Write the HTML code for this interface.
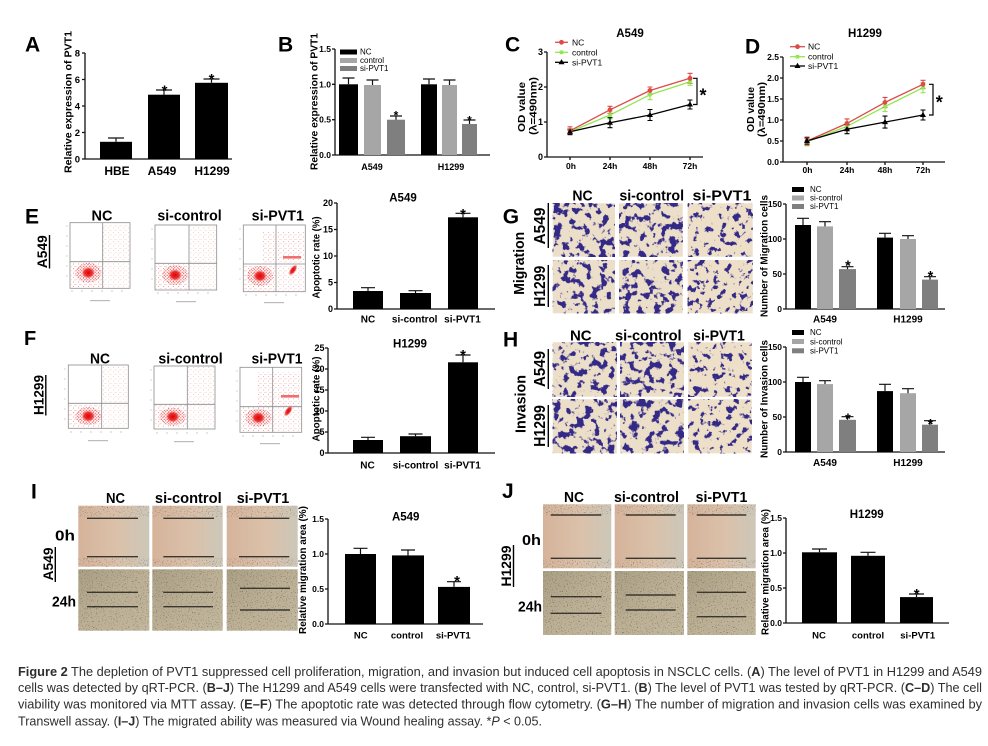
<!DOCTYPE html>
<html><head><meta charset="utf-8"><style>
html,body{margin:0;padding:0;background:#fff}
svg{display:block}
.b{font-family:"Liberation Sans",Arial,sans-serif;font-weight:bold;fill:#000}
.n{font-family:"Liberation Sans",Arial,sans-serif;fill:#000}
.ax{stroke:#111;stroke-width:1.3;fill:none}
.eb{stroke:#111;stroke-width:1.2;fill:none}
.cap{font-family:"Liberation Sans",Arial,sans-serif;fill:#2e2e2e;font-size:13px}
</style></head><body>
<svg width="988" height="746" viewBox="0 0 988 746" xmlns="http://www.w3.org/2000/svg">
<defs>
<filter id="twd" x="0" y="0" width="1" height="1" color-interpolation-filters="sRGB">
<feTurbulence type="fractalNoise" baseFrequency="0.13" numOctaves="3" seed="3" result="n"/>
<feColorMatrix in="n" type="matrix" values="0 0 0 0 0.2 0 0 0 0 0.16 0 0 0 0 0.53 -12 0 0 0 5.55" result="k"/>
<feMerge><feMergeNode in="SourceGraphic"/><feMergeNode in="k"/></feMerge>
</filter>
<filter id="tws" x="0" y="0" width="1" height="1" color-interpolation-filters="sRGB">
<feTurbulence type="fractalNoise" baseFrequency="0.15" numOctaves="3" seed="8" result="n"/>
<feColorMatrix in="n" type="matrix" values="0 0 0 0 0.2 0 0 0 0 0.16 0 0 0 0 0.53 -12 0 0 0 5.05" result="k"/>
<feMerge><feMergeNode in="SourceGraphic"/><feMergeNode in="k"/></feMerge>
</filter>
<filter id="spk" x="0" y="0" width="1" height="1" color-interpolation-filters="sRGB">
<feTurbulence type="fractalNoise" baseFrequency="0.8" numOctaves="2" seed="5" result="n"/>
<feColorMatrix in="n" type="matrix" values="0 0 0 0 0.32 0 0 0 0 0.29 0 0 0 0 0.24 -3 0 0 0 1.2" result="k"/>
<feMerge><feMergeNode in="SourceGraphic"/><feMergeNode in="k"/></feMerge>
</filter>
<pattern id="rd" width="3" height="3" patternUnits="userSpaceOnUse"><circle cx="0.8" cy="0.8" r="0.6" fill="#e52b2b"/><circle cx="2.3" cy="2.2" r="0.6" fill="#e52b2b"/></pattern>
<pattern id="rs" width="5" height="4.5" patternUnits="userSpaceOnUse"><circle cx="1" cy="0.8" r="0.45" fill="#e64040"/><circle cx="3.6" cy="3" r="0.45" fill="#e64040"/><circle cx="4.3" cy="1" r="0.35" fill="#e66060"/></pattern>
<radialGradient id="rg"><stop offset="0" stop-color="#e00000"/><stop offset="0.6" stop-color="#e81818" stop-opacity="0.85"/><stop offset="1" stop-color="#ff5050" stop-opacity="0"/></radialGradient>
<linearGradient id="w0" x1="0" x2="1" y1="0" y2="0"><stop offset="0" stop-color="#d5b39a"/><stop offset="0.55" stop-color="#dbc1aa"/><stop offset="1" stop-color="#ccc7b8"/></linearGradient>
<linearGradient id="w1" x1="0" x2="1" y1="0" y2="1"><stop offset="0" stop-color="#aaa085"/><stop offset="0.5" stop-color="#bcb095"/><stop offset="1" stop-color="#c2b89e"/></linearGradient>
</defs>
<rect width="988" height="746" fill="#fff"/>

<!-- ============ Panel A ============ -->
<text class="b" x="25" y="51.7" font-size="21">A</text>
<path class="ax" d="M85,53V159H232M82,53H85M82,79.5H85M82,106H85M82,132.5H85M82,159H85"/>
<g class="b" font-size="9.5" text-anchor="end">
<text x="80" y="56.5">8</text><text x="80" y="83">6</text><text x="80" y="109.5">4</text><text x="80" y="136">2</text><text x="80" y="162.5">0</text>
</g>
<rect x="100" y="141.8" width="32" height="17.2"/>
<rect x="148" y="94.7" width="32" height="64.3"/>
<rect x="195" y="82.8" width="33" height="76.2"/>
<path class="eb" d="M116,141.8V138M108,138H124M164,94.7V90M156,90H172M211.5,82.8V79M203.5,79H219.5"/>
<g class="b" font-size="15" text-anchor="middle"><text x="164.5" y="95.6">*</text><text x="211.5" y="84.1">*</text></g>
<g class="b" font-size="12" text-anchor="middle"><text x="117" y="175">HBE</text><text x="162" y="175">A549</text><text x="212" y="175">H1299</text></g>
<text class="b" font-size="10.5" text-anchor="middle" transform="translate(71.3,102) rotate(-90)" textLength="142" lengthAdjust="spacingAndGlyphs">Relative expression of PVT1</text>

<!-- ============ Panel B ============ -->
<text class="b" x="278" y="51.7" font-size="21">B</text>
<path class="ax" d="M335,49V155H490M332,49H335M332,84.3H335M332,119.7H335M332,155H335"/>
<g class="b" font-size="8.5" text-anchor="end">
<text x="331" y="52">1.5</text><text x="331" y="87.3">1.0</text><text x="331" y="122.7">0.5</text><text x="331" y="158">0.0</text>
</g>
<rect x="339" y="84.3" width="19" height="70.7" fill="#000"/>
<rect x="364" y="85" width="17" height="70" fill="#a6a6a6"/>
<rect x="387" y="119.7" width="18" height="35.3" fill="#7f7f7f"/>
<rect x="421" y="84.3" width="16" height="70.7" fill="#000"/>
<rect x="442" y="85" width="15" height="70" fill="#a6a6a6"/>
<rect x="462" y="124" width="15" height="31" fill="#7f7f7f"/>
<path class="eb" d="M348.5,84.3V78M342.5,78H354.5M372.5,85V80M366.5,80H378.5M396,119.7V116M390,116H402M429,84.3V79M423,79H435M449.5,85V80M443.5,80H455.5M469.5,124V120M463.5,120H475.5"/>
<g class="b" font-size="12" text-anchor="middle"><text x="396" y="119.4">*</text><text x="469.5" y="124.4">*</text></g>
<rect x="340" y="49.5" width="17" height="5" fill="#000"/>
<rect x="340" y="58" width="17" height="5" fill="#a6a6a6"/>
<rect x="340" y="66" width="17" height="5" fill="#7f7f7f"/>
<g class="n" font-size="8"><text x="360" y="54.5">NC</text><text x="360" y="63">control</text><text x="360" y="71">si-PVT1</text></g>
<g class="b" font-size="9" text-anchor="middle"><text x="372" y="170">A549</text><text x="451" y="170">H1299</text></g>
<text class="b" font-size="10.5" text-anchor="middle" transform="translate(317.7,101.5) rotate(-90)" textLength="137" lengthAdjust="spacingAndGlyphs">Relative expression of PVT1</text>

<!-- ============ Panel C ============ -->
<text class="b" x="505" y="51.7" font-size="21">C</text>
<text class="b" x="630" y="37" font-size="11.5" text-anchor="middle">A549</text>
<path class="ax" d="M547,52V157H703M544,52H547M544,87H547M544,122H547M544,157H547M570,157V160M610,157V160M650,157V160M690,157V160"/>
<g class="b" font-size="9" text-anchor="end"><text x="543" y="55">3</text><text x="543" y="90">2</text><text x="543" y="125">1</text><text x="543" y="160">0</text></g>
<g class="b" font-size="8.5" text-anchor="middle"><text x="571" y="169">0h</text><text x="610" y="169">24h</text><text x="650" y="169">48h</text><text x="690" y="169">72h</text></g>
<text class="b" font-size="10.5" text-anchor="middle" transform="translate(525,107) rotate(-90)" textLength="50" lengthAdjust="spacingAndGlyphs">OD value</text>
<text class="b" font-size="10.5" text-anchor="middle" transform="translate(536.3,106) rotate(-90)" textLength="58" lengthAdjust="spacingAndGlyphs">(λ=490nm)</text>
<g fill="none" stroke-width="1.3">
<path stroke="#8fe84e" d="M570,131.8L610,115L650,94.7L690,81.8"/>
<path stroke="#8fe84e" stroke-width="1.1" d="M570,128.8V134.8M567.5,128.8h5M567.5,134.8h5M610,111V119M607.5,111h5M607.5,119h5M650,89.7V99.7M647.5,89.7h5M647.5,99.7h5M690,78.3V85.3M687.5,78.3h5M687.5,85.3h5"/>
<path stroke="#dd4a48" d="M570,130.8L610,109.8L650,90.5L690,78.3"/>
<path stroke="#dd4a48" stroke-width="1.1" d="M570,126.8V134.8M567.5,126.8h5M567.5,134.8h5M610,106.3V113.3M607.5,106.3h5M607.5,113.3h5M650,87V94M647.5,87h5M647.5,94h5M690,73.3V83.3M687.5,73.3h5M687.5,83.3h5"/>
<path stroke="#000" d="M570,131.8L610,122.7L650,115L690,104.5"/>
<path stroke="#000" stroke-width="1.1" d="M570,129.3V134.3M567.5,129.3h5M567.5,134.3h5M610,117.7V127.7M607.5,117.7h5M607.5,127.7h5M650,109.5V120.5M647.5,109.5h5M647.5,120.5h5M690,100V109M687.5,100h5M687.5,109h5"/>
</g>
<g fill="#8fe84e"><rect x="568.2" y="130" width="3.6" height="3.6"/><rect x="608.2" y="113.2" width="3.6" height="3.6"/><rect x="648.2" y="92.9" width="3.6" height="3.6"/><rect x="688.2" y="80" width="3.6" height="3.6"/></g>
<g fill="#dd4a48"><circle cx="570" cy="130.8" r="2.4"/><circle cx="610" cy="109.8" r="2.4"/><circle cx="650" cy="90.5" r="2.4"/><circle cx="690" cy="78.3" r="2.4"/></g>
<g fill="#000"><polygon points="570,128.6 567,133.8 573,133.8"/><polygon points="610,119.5 607,124.7 613,124.7"/><polygon points="650,111.8 647,117 653,117"/><polygon points="690,101.3 687,106.5 693,106.5"/></g>
<path d="M555,42.3H568" stroke="#dd4a48" stroke-width="1.3"/><circle cx="561.5" cy="42.3" r="2.4" fill="#dd4a48"/>
<path d="M555,52.3H568" stroke="#8fe84e" stroke-width="1.3"/><rect x="559.7" y="50.5" width="3.6" height="3.6" fill="#8fe84e"/>
<path d="M555,62.3H568" stroke="#000" stroke-width="1.3"/><polygon points="561.5,59.1 558.5,64.3 564.5,64.3"/>
<g class="n" font-size="8.5"><text x="572" y="45.3">NC</text><text x="572" y="55.3">control</text><text x="572" y="65.3">si-PVT1</text></g>
<path d="M693,78.3H697V104.5H693" fill="none" stroke="#000" stroke-width="1.2"/>
<text class="b" x="703" y="101.6" font-size="18" text-anchor="middle">*</text>

<!-- ============ Panel D ============ -->
<text class="b" x="745" y="53.3" font-size="21">D</text>
<text class="b" x="865" y="37" font-size="11.5" text-anchor="middle">H1299</text>
<path class="ax" d="M783,57V162H945M780,57H783M780,78H783M780,99H783M780,120H783M780,141H783M780,162H783M807,162V165M847,162V165M885,162V165M923,162V165"/>
<g class="b" font-size="8.5" text-anchor="end"><text x="779" y="60">2.5</text><text x="779" y="81">2.0</text><text x="779" y="102">1.5</text><text x="779" y="123">1.0</text><text x="779" y="144">0.5</text><text x="779" y="165">0.0</text></g>
<g class="b" font-size="8.5" text-anchor="middle"><text x="807.5" y="173">0h</text><text x="847" y="173">24h</text><text x="885" y="173">48h</text><text x="923" y="173">72h</text></g>
<text class="b" font-size="10.5" text-anchor="middle" transform="translate(754.2,109.5) rotate(-90)" textLength="45" lengthAdjust="spacingAndGlyphs">OD value</text>
<text class="b" font-size="10.5" text-anchor="middle" transform="translate(765,109.5) rotate(-90)" textLength="55" lengthAdjust="spacingAndGlyphs">(λ=490nm)</text>
<g fill="none" stroke-width="1.3">
<path stroke="#8fe84e" d="M807,141.8L847,126.3L885,106.6L923,87.7"/>
<path stroke="#8fe84e" stroke-width="1.1" d="M807,137.8V145.8M804.5,137.8h5M804.5,145.8h5M847,122.3V130.3M844.5,122.3h5M844.5,130.3h5M885,101.6V111.6M882.5,101.6h5M882.5,111.6h5M923,82.7V92.7M920.5,82.7h5M920.5,92.7h5"/>
<path stroke="#dd4a48" d="M807,141L847,123.4L885,102.4L923,84.3"/>
<path stroke="#dd4a48" stroke-width="1.1" d="M807,137V145M804.5,137h5M804.5,145h5M847,118.9V127.9M844.5,118.9h5M844.5,127.9h5M885,97.4V107.4M882.5,97.4h5M882.5,107.4h5M923,80.3V88.3M920.5,80.3h5M920.5,88.3h5"/>
<path stroke="#000" d="M807,141L847,129.2L885,122.1L923,115"/>
<path stroke="#000" stroke-width="1.1" d="M807,138V144M804.5,138h5M804.5,144h5M847,124.7V133.7M844.5,124.7h5M844.5,133.7h5M885,116.1V128.1M882.5,116.1h5M882.5,128.1h5M923,110V120M920.5,110h5M920.5,120h5"/>
</g>
<g fill="#8fe84e"><rect x="805.2" y="140" width="3.6" height="3.6"/><rect x="845.2" y="124.5" width="3.6" height="3.6"/><rect x="883.2" y="104.8" width="3.6" height="3.6"/><rect x="921.2" y="85.9" width="3.6" height="3.6"/></g>
<g fill="#dd4a48"><circle cx="807" cy="141" r="2.4"/><circle cx="847" cy="123.4" r="2.4"/><circle cx="885" cy="102.4" r="2.4"/><circle cx="923" cy="84.3" r="2.4"/></g>
<g fill="#000"><polygon points="807,137.8 804,143 810,143"/><polygon points="847,126 844,131.2 850,131.2"/><polygon points="885,118.9 882,124.1 888,124.1"/><polygon points="923,111.8 920,117 926,117"/></g>
<path d="M790,46.7H805" stroke="#dd4a48" stroke-width="1.3"/><circle cx="797.5" cy="46.7" r="2.4" fill="#dd4a48"/>
<path d="M790,56.7H805" stroke="#8fe84e" stroke-width="1.3"/><rect x="795.7" y="54.9" width="3.6" height="3.6" fill="#8fe84e"/>
<path d="M790,66H805" stroke="#000" stroke-width="1.3"/><polygon points="797.5,62.8 794.5,68 800.5,68"/>
<g class="n" font-size="8.5"><text x="808" y="49.7">NC</text><text x="808" y="59.7">control</text><text x="808" y="69">si-PVT1</text></g>
<path d="M929,84.3H933V115H929" fill="none" stroke="#000" stroke-width="1.2"/>
<text class="b" x="939.3" y="108.7" font-size="18" text-anchor="middle">*</text>

<!-- ============ Panel E ============ -->
<text class="b" x="25" y="223.3" font-size="21">E</text>
<text class="b" font-size="14" text-anchor="middle" transform="translate(47,251.7) rotate(-90)" textLength="33" lengthAdjust="spacingAndGlyphs">A549</text>
<path d="M49.5,235V268.5" stroke="#000" stroke-width="1.4"/>
<g class="b" font-size="15" text-anchor="middle">
<text x="102" y="220.7" textLength="21" lengthAdjust="spacingAndGlyphs">NC</text>
<text x="189.5" y="220.7" textLength="64.3" lengthAdjust="spacingAndGlyphs">si-control</text>
<text x="277.8" y="220.7" textLength="52.3" lengthAdjust="spacingAndGlyphs">si-PVT1</text>
</g>
<!-- flow NC -->
<g stroke="#aaa" stroke-width="0.6"><path d="M66,226h2M66,236h2M66,246h2M66,256h2M66,266h2M66,276h2M72,290v2M82,290v2M92,290v2M102,290v2M112,290v2M122,290v2"/></g>
<rect x="70" y="222.7" width="60" height="65.6" fill="#fff" stroke="#8c8c8c" stroke-width="0.8"/>
<rect x="71" y="262" width="31" height="25" fill="url(#rs)" opacity="0.75"/>
<rect x="103" y="224" width="26" height="37" fill="url(#rs)" opacity="0.4"/>
<rect x="103" y="262" width="26" height="25" fill="url(#rs)" opacity="0.35"/>
<ellipse cx="88.3" cy="272.7" rx="13" ry="10" fill="url(#rd)" opacity="0.85"/>
<ellipse cx="88.3" cy="272.7" rx="7" ry="6" fill="url(#rg)"/>
<path d="M102.7,222.7V288.3M70,261.7H130" stroke="#8a8a8a" stroke-width="0.8"/>
<rect x="90" y="300" width="20" height="1.2" fill="#bbb"/>
<!-- flow si-control -->
<g stroke="#aaa" stroke-width="0.6"><path d="M151,229h2M151,239h2M151,249h2M151,259h2M151,269h2M151,279h2M158,292v2M168,292v2M178,292v2M188,292v2M198,292v2M208,292v2"/></g>
<rect x="155" y="225" width="61.7" height="65" fill="#fff" stroke="#8c8c8c" stroke-width="0.8"/>
<rect x="156" y="264" width="33" height="25" fill="url(#rs)" opacity="0.75"/>
<rect x="190" y="226" width="26" height="37" fill="url(#rs)" opacity="0.4"/>
<rect x="190" y="264" width="26" height="25" fill="url(#rs)" opacity="0.35"/>
<ellipse cx="175" cy="275" rx="13" ry="10" fill="url(#rd)" opacity="0.85"/>
<ellipse cx="175" cy="275" rx="7" ry="6" fill="url(#rg)"/>
<path d="M189,225V290M155,263.3H216.7" stroke="#8a8a8a" stroke-width="0.8"/>
<rect x="176" y="301" width="20" height="1.2" fill="#bbb"/>
<!-- flow si-PVT1 -->
<g stroke="#aaa" stroke-width="0.6"><path d="M239,229h2M239,239h2M239,249h2M239,259h2M239,269h2M239,279h2M246,294v2M256,294v2M266,294v2M276,294v2M286,294v2M296,294v2"/></g>
<rect x="243.3" y="225" width="62" height="66.7" fill="#fff" stroke="#8c8c8c" stroke-width="0.8"/>
<rect x="244" y="265" width="32" height="26" fill="url(#rs)" opacity="0.75"/>
<rect x="262" y="232" width="42" height="32" fill="url(#rs)" opacity="0.6"/>
<rect x="277" y="265" width="27" height="26" fill="url(#rs)" opacity="0.5"/>
<ellipse cx="260" cy="276" rx="13" ry="10" fill="url(#rd)" opacity="0.85"/>
<ellipse cx="260" cy="276" rx="7" ry="6" fill="url(#rg)"/>
<ellipse cx="293" cy="270" rx="3" ry="6.5" transform="rotate(35 293 270)" fill="url(#rg)"/>
<rect x="283" y="256" width="18" height="2.6" fill="#e33" opacity="0.7"/>
<path d="M276,225V291.7M243.3,264H305.3" stroke="#8a8a8a" stroke-width="0.8"/>
<rect x="264" y="302" width="20" height="1.2" fill="#bbb"/>
<!-- E bar -->
<text class="b" x="403" y="201.7" font-size="11.5" text-anchor="middle">A549</text>
<path class="ax" d="M337,203V309H495M334,203H337M334,229.5H337M334,256H337M334,282.5H337M334,309H337"/>
<g class="b" font-size="9" text-anchor="end"><text x="333" y="206">20</text><text x="333" y="232.5">15</text><text x="333" y="259">10</text><text x="333" y="285.5">5</text><text x="333" y="312">0</text></g>
<rect x="353" y="291" width="30" height="18"/>
<rect x="400" y="293" width="31" height="16"/>
<rect x="448" y="217.3" width="30" height="91.7"/>
<path class="eb" d="M368,291V287.7M361,287.7H375M415.5,293V290.7M408.5,290.7H422.5M463,217.3V213.3M455.5,213.3H470.5"/>
<text class="b" x="463" y="219.1" font-size="15" text-anchor="middle">*</text>
<g class="b" font-size="10" text-anchor="middle"><text x="368" y="322.7">NC</text><text x="414.7" y="322.7">si-control</text><text x="462.5" y="322.7">si-PVT1</text></g>
<text class="b" font-size="10.5" text-anchor="middle" transform="translate(319.4,257.5) rotate(-90)" textLength="82" lengthAdjust="spacingAndGlyphs">Apoptotic rate (%)</text>

<!-- ============ Panel F ============ -->
<text class="b" x="24" y="345" font-size="20">F</text>
<text class="b" font-size="14" text-anchor="middle" transform="translate(43.5,395) rotate(-90)" textLength="40" lengthAdjust="spacingAndGlyphs">H1299</text>
<path d="M45.8,375V415.5" stroke="#000" stroke-width="1.4"/>
<g class="b" font-size="15" text-anchor="middle">
<text x="100" y="363.3" textLength="20" lengthAdjust="spacingAndGlyphs">NC</text>
<text x="190.5" y="363.3" textLength="64.3" lengthAdjust="spacingAndGlyphs">si-control</text>
<text x="277" y="363.3" textLength="51" lengthAdjust="spacingAndGlyphs">si-PVT1</text>
</g>
<g stroke="#aaa" stroke-width="0.6"><path d="M64,369h2M64,379h2M64,389h2M64,399h2M64,409h2M64,419h2M71,431v2M81,431v2M91,431v2M101,431v2M111,431v2M121,431v2"/></g>
<rect x="68.3" y="365" width="60" height="63.3" fill="#fff" stroke="#8c8c8c" stroke-width="0.8"/>
<rect x="69" y="404" width="32" height="23" fill="url(#rs)" opacity="0.75"/>
<rect x="102" y="366" width="26" height="37" fill="url(#rs)" opacity="0.4"/>
<rect x="102" y="404" width="26" height="23" fill="url(#rs)" opacity="0.35"/>
<ellipse cx="88.3" cy="416" rx="13" ry="9" fill="url(#rd)" opacity="0.85"/>
<ellipse cx="88.3" cy="416" rx="7" ry="6" fill="url(#rg)"/>
<path d="M101.7,365V428.3M68.3,403.3H128.3" stroke="#8a8a8a" stroke-width="0.8"/>
<rect x="88" y="440" width="20" height="1.2" fill="#bbb"/>
<g stroke="#aaa" stroke-width="0.6"><path d="M150,370h2M150,380h2M150,390h2M150,400h2M150,410h2M150,420h2M157,432v2M167,432v2M177,432v2M187,432v2M197,432v2M207,432v2"/></g>
<rect x="154" y="366" width="61" height="63" fill="#fff" stroke="#8c8c8c" stroke-width="0.8"/>
<rect x="155" y="405" width="32" height="23" fill="url(#rs)" opacity="0.75"/>
<rect x="188" y="367" width="26" height="37" fill="url(#rs)" opacity="0.4"/>
<rect x="188" y="405" width="26" height="23" fill="url(#rs)" opacity="0.35"/>
<ellipse cx="172.7" cy="416.7" rx="13" ry="9" fill="url(#rd)" opacity="0.85"/>
<ellipse cx="172.7" cy="416.7" rx="7" ry="6" fill="url(#rg)"/>
<path d="M187.3,366V429M154,404.3H215" stroke="#8a8a8a" stroke-width="0.8"/>
<rect x="174" y="441" width="20" height="1.2" fill="#bbb"/>
<g stroke="#aaa" stroke-width="0.6"><path d="M236,371h2M236,381h2M236,391h2M236,401h2M236,411h2M236,421h2M243,435v2M253,435v2M263,435v2M273,435v2M283,435v2M293,435v2"/></g>
<rect x="240" y="367.3" width="61.7" height="65" fill="#fff" stroke="#8c8c8c" stroke-width="0.8"/>
<rect x="241" y="407" width="31" height="24" fill="url(#rs)" opacity="0.75"/>
<rect x="258" y="372" width="42" height="34" fill="url(#rs)" opacity="0.6"/>
<rect x="273" y="407" width="28" height="24" fill="url(#rs)" opacity="0.5"/>
<ellipse cx="258.3" cy="417.7" rx="13" ry="9" fill="url(#rd)" opacity="0.85"/>
<ellipse cx="258.3" cy="417.7" rx="7" ry="6" fill="url(#rg)"/>
<ellipse cx="288.3" cy="411" rx="3" ry="6.5" transform="rotate(35 288.3 411)" fill="url(#rg)"/>
<rect x="281" y="395" width="18" height="2.6" fill="#e33" opacity="0.7"/>
<path d="M272.7,367.3V432.3M240,406.7H301.7" stroke="#8a8a8a" stroke-width="0.8"/>
<rect x="260" y="443" width="20" height="1.2" fill="#bbb"/>
<!-- F bar -->
<text class="b" x="410" y="347.3" font-size="11.5" text-anchor="middle">H1299</text>
<path class="ax" d="M328,348V453H495M325,348H328M325,369H328M325,390H328M325,411H328M325,432H328M325,453H328"/>
<g class="b" font-size="9" text-anchor="end"><text x="324.5" y="351">25</text><text x="324.5" y="372">20</text><text x="324.5" y="393">15</text><text x="324.5" y="414">10</text><text x="324.5" y="435">5</text><text x="324.5" y="456">0</text></g>
<rect x="353" y="440" width="30" height="13"/>
<rect x="400" y="436.2" width="31" height="16.8"/>
<rect x="448" y="362.3" width="30" height="90.7"/>
<path class="eb" d="M368,440V437.3M361,437.3H375M415.5,436.2V434M408.5,434H422.5M463,362.3V355M455.5,355H470.5"/>
<text class="b" x="463" y="359.8" font-size="15" text-anchor="middle">*</text>
<g class="b" font-size="10" text-anchor="middle"><text x="367.5" y="468.3">NC</text><text x="415.5" y="468.3">si-control</text><text x="462.5" y="468.3">si-PVT1</text></g>
<text class="b" font-size="10.5" text-anchor="middle" transform="translate(319.4,399) rotate(-90)" textLength="85" lengthAdjust="spacingAndGlyphs">Apoptotic rate (%)</text>

<!-- ============ Panel G ============ -->
<text class="b" x="502.7" y="223.3" font-size="21">G</text>
<text class="b" font-size="15" text-anchor="middle" transform="translate(524,263.3) rotate(-90)" textLength="63" lengthAdjust="spacingAndGlyphs">Migration</text>
<text class="b" font-size="15.5" text-anchor="middle" transform="translate(545,226) rotate(-90)" textLength="37" lengthAdjust="spacingAndGlyphs">A549</text>
<path d="M548.3,203V248" stroke="#000" stroke-width="1.4"/>
<text class="b" font-size="15.5" text-anchor="middle" transform="translate(545,286.3) rotate(-90)" textLength="41" lengthAdjust="spacingAndGlyphs">H1299</text>
<path d="M548.3,265V307" stroke="#000" stroke-width="1.4"/>
<g class="b" font-size="15" text-anchor="middle">
<text x="582.5" y="200.7" textLength="20.3" lengthAdjust="spacingAndGlyphs">NC</text>
<text x="651.7" y="200.7" textLength="64.7" lengthAdjust="spacingAndGlyphs">si-control</text>
<text x="722" y="200.7" textLength="59" lengthAdjust="spacingAndGlyphs">si-PVT1</text>
</g>
<rect x="552.7" y="203.3" width="62.3" height="53.4" fill="#ecdfc9" filter="url(#twd)"/>
<rect x="619" y="203.3" width="63.7" height="53.4" fill="#ecdfc9" filter="url(#twd)"/>
<rect x="687.7" y="203.3" width="65" height="53.4" fill="#eddfc8" filter="url(#tws)"/>
<rect x="552.7" y="260" width="62.3" height="53.3" fill="#ecdfc9" filter="url(#twd)"/>
<rect x="619" y="260" width="63.7" height="53.3" fill="#ecdfc9" filter="url(#twd)"/>
<rect x="687.7" y="260" width="65" height="53.3" fill="#eddfc8" filter="url(#tws)"/>
<!-- G bar -->
<path class="ax" d="M786,204V309H945M783,204H786M783,239H786M783,274H786M783,309H786"/>
<g class="b" font-size="8.5" text-anchor="end"><text x="782" y="207">150</text><text x="782" y="242">100</text><text x="782" y="277">50</text><text x="782" y="312">0</text></g>
<rect x="795" y="225" width="16" height="84" fill="#000"/>
<rect x="817" y="226.4" width="16" height="82.6" fill="#a6a6a6"/>
<rect x="839" y="269.1" width="17" height="39.9" fill="#7f7f7f"/>
<rect x="877" y="237.6" width="16" height="71.4" fill="#000"/>
<rect x="900" y="239" width="16" height="70" fill="#a6a6a6"/>
<rect x="922" y="279.6" width="16" height="29.4" fill="#7f7f7f"/>
<path class="eb" d="M803,225V218.3M797,218.3H809M825,226.4V221.7M819,221.7H831M847.5,269.1V266.7M841.5,266.7H853.5M885,237.6V233.3M879,233.3H891M908,239V235.7M902,235.7H914M930,279.6V276.7M924,276.7H936"/>
<g class="b" font-size="14.5" text-anchor="middle"><text x="848" y="270.5">*</text><text x="930.5" y="281">*</text></g>
<rect x="792" y="187" width="12" height="5" fill="#000"/>
<rect x="792" y="195.5" width="12" height="5" fill="#a6a6a6"/>
<rect x="792" y="204" width="12" height="5" fill="#7f7f7f"/>
<g class="n" font-size="8"><text x="810" y="192">NC</text><text x="810" y="200.5">si-control</text><text x="810" y="209">si-PVT1</text></g>
<g class="b" font-size="10" text-anchor="middle"><text x="825" y="322.7">A549</text><text x="908" y="322.7">H1299</text></g>
<text class="b" font-size="10" text-anchor="middle" transform="translate(767.3,256) rotate(-90)" textLength="122" lengthAdjust="spacingAndGlyphs">Number of Migration cells</text>

<!-- ============ Panel H ============ -->
<text class="b" x="503" y="346.7" font-size="21">H</text>
<text class="b" font-size="15" text-anchor="middle" transform="translate(525.5,404) rotate(-90)" textLength="58" lengthAdjust="spacingAndGlyphs">Invasion</text>
<text class="b" font-size="15.5" text-anchor="middle" transform="translate(545,369) rotate(-90)" textLength="36" lengthAdjust="spacingAndGlyphs">A549</text>
<path d="M548.3,349V389" stroke="#000" stroke-width="1.4"/>
<text class="b" font-size="15.5" text-anchor="middle" transform="translate(545,426) rotate(-90)" textLength="41.7" lengthAdjust="spacingAndGlyphs">H1299</text>
<path d="M548.3,405V447" stroke="#000" stroke-width="1.4"/>
<g class="b" font-size="15" text-anchor="middle">
<text x="580.8" y="340.7" textLength="21.7" lengthAdjust="spacingAndGlyphs">NC</text>
<text x="648.3" y="340.7" textLength="66.7" lengthAdjust="spacingAndGlyphs">si-control</text>
<text x="719" y="340.7" textLength="51.7" lengthAdjust="spacingAndGlyphs">si-PVT1</text>
</g>
<rect x="552.7" y="342.3" width="64" height="54.4" fill="#ecdfc9" filter="url(#twd)"/>
<rect x="620" y="342.3" width="64" height="54.4" fill="#ecdfc9" filter="url(#twd)"/>
<rect x="688.3" y="342.3" width="63.4" height="54.4" fill="#eddfc8" filter="url(#tws)"/>
<rect x="552.7" y="399.3" width="64" height="54" fill="#ecdfc9" filter="url(#twd)"/>
<rect x="620" y="399.3" width="64" height="54" fill="#ecdfc9" filter="url(#twd)"/>
<rect x="688.3" y="399.3" width="63.4" height="54" fill="#eddfc8" filter="url(#tws)"/>
<!-- H bar -->
<path class="ax" d="M786,347V452H945M783,347H786M783,382H786M783,417H786M783,452H786"/>
<g class="b" font-size="8.5" text-anchor="end"><text x="782" y="350">150</text><text x="782" y="385">100</text><text x="782" y="420">50</text><text x="782" y="455">0</text></g>
<rect x="795" y="382" width="16" height="70" fill="#000"/>
<rect x="817" y="384.1" width="16" height="67.9" fill="#a6a6a6"/>
<rect x="839" y="419.8" width="17" height="32.2" fill="#7f7f7f"/>
<rect x="877" y="391.1" width="16" height="60.9" fill="#000"/>
<rect x="900" y="393.2" width="16" height="58.8" fill="#a6a6a6"/>
<rect x="922" y="424.7" width="16" height="27.3" fill="#7f7f7f"/>
<path class="eb" d="M803,382V377.3M797,377.3H809M825,384.1V380.7M819,380.7H831M847.5,419.8V416.7M841.5,416.7H853.5M885,391.1V384.3M879,384.3H891M908,393.2V388.7M902,388.7H914M930,424.7V420.7M924,420.7H936"/>
<g class="b" font-size="14.5" text-anchor="middle"><text x="848" y="423.5">*</text><text x="930.5" y="429">*</text></g>
<rect x="792" y="330" width="12" height="5" fill="#000"/>
<rect x="792" y="339" width="12" height="5" fill="#a6a6a6"/>
<rect x="792" y="348.3" width="12" height="5" fill="#7f7f7f"/>
<g class="n" font-size="8"><text x="810" y="335">NC</text><text x="810" y="344.3">si-control</text><text x="810" y="353.6">si-PVT1</text></g>
<g class="b" font-size="10" text-anchor="middle"><text x="825" y="466">A549</text><text x="908" y="466">H1299</text></g>
<text class="b" font-size="10" text-anchor="middle" transform="translate(767.3,399) rotate(-90)" textLength="118" lengthAdjust="spacingAndGlyphs">Number of Invasion cells</text>

<!-- ============ Panel I ============ -->
<text class="b" x="31" y="498.3" font-size="21">I</text>
<g class="b" font-size="14.5" text-anchor="middle">
<text x="115.5" y="503" textLength="19" lengthAdjust="spacingAndGlyphs">NC</text>
<text x="188.3" y="503" textLength="66.7" lengthAdjust="spacingAndGlyphs">si-control</text>
<text x="263" y="503" textLength="52.6" lengthAdjust="spacingAndGlyphs">si-PVT1</text>
</g>
<g class="b" font-size="15" text-anchor="end"><text x="75" y="540.7" textLength="20" lengthAdjust="spacingAndGlyphs">0h</text><text x="76" y="606.7" textLength="24" lengthAdjust="spacingAndGlyphs">24h</text></g>
<text class="b" font-size="14" text-anchor="middle" transform="translate(53,564) rotate(-90)" textLength="33" lengthAdjust="spacingAndGlyphs">A549</text>
<path d="M55.3,547V582" stroke="#000" stroke-width="1.4"/>
<rect x="78.3" y="505.7" width="71" height="61" fill="url(#w0)"/>
<rect x="152.3" y="505.7" width="70.4" height="61" fill="url(#w0)"/>
<rect x="226.7" y="505.7" width="71" height="61" fill="url(#w0)"/>
<rect x="78.3" y="505.7" width="71" height="11" fill="#000" fill-opacity="0" filter="url(#spk)"/>
<rect x="152.3" y="505.7" width="70.4" height="11" fill="#000" fill-opacity="0" filter="url(#spk)"/>
<rect x="226.7" y="505.7" width="71" height="11" fill="#000" fill-opacity="0" filter="url(#spk)"/>
<rect x="78.3" y="558" width="71" height="8.7" fill="#000" fill-opacity="0" filter="url(#spk)"/>
<rect x="152.3" y="558" width="70.4" height="8.7" fill="#000" fill-opacity="0" filter="url(#spk)"/>
<rect x="226.7" y="558" width="71" height="8.7" fill="#000" fill-opacity="0" filter="url(#spk)"/>
<rect x="78.3" y="569.3" width="71" height="61.4" fill="url(#w1)"/>
<rect x="152.3" y="569.3" width="70.4" height="61.4" fill="url(#w1)"/>
<rect x="226.7" y="569.3" width="71" height="61.4" fill="url(#w1)"/>
<rect x="78.3" y="569.3" width="71" height="61.4" fill="#000" fill-opacity="0" filter="url(#spk)"/>
<rect x="152.3" y="569.3" width="70.4" height="61.4" fill="#000" fill-opacity="0" filter="url(#spk)"/>
<rect x="226.7" y="569.3" width="71" height="61.4" fill="#000" fill-opacity="0" filter="url(#spk)"/>
<path d="M87,518.3H138M87,556.7H138M163.3,518.3H214M163.3,556.7H214M239,518.3H289.3M239,556.7H289.3M87,592.3H138M87,606.7H138M163.3,592.3H213M163.3,606.7H213M240,588.3H290M240,610H290" stroke="#3a3630" stroke-width="1.4"/>
<!-- I bar -->
<text class="b" x="405.7" y="520.7" font-size="11.5" text-anchor="middle">A549</text>
<path class="ax" d="M328,519V624H483M325,519H328M325,554H328M325,589H328M325,624H328"/>
<g class="b" font-size="8.5" text-anchor="end"><text x="324" y="522">1.5</text><text x="324" y="557">1.0</text><text x="324" y="592">0.5</text><text x="324" y="627">0.0</text></g>
<rect x="345" y="554" width="31" height="70"/>
<rect x="392" y="555.4" width="32" height="68.6"/>
<rect x="438" y="586.9" width="32" height="37.1"/>
<path class="eb" d="M360.5,554V548.3M353.5,548.3H367.5M408,555.4V550M401,550H415M454,586.9V581.7M447,581.7H461"/>
<text class="b" x="457" y="586" font-size="15" text-anchor="middle">*</text>
<g class="b" font-size="9.5" text-anchor="middle"><text x="360.8" y="638.3">NC</text><text x="407" y="638.3">control</text><text x="453.3" y="638.3">si-PVT1</text></g>
<text class="b" font-size="10.5" text-anchor="middle" transform="translate(306,570) rotate(-90)" textLength="128" lengthAdjust="spacingAndGlyphs">Relative migration area (%)</text>

<!-- ============ Panel J ============ -->
<text class="b" x="502" y="498" font-size="21">J</text>
<g class="b" font-size="14.5" text-anchor="middle">
<text x="574" y="502" textLength="20" lengthAdjust="spacingAndGlyphs">NC</text>
<text x="646.5" y="502" textLength="65" lengthAdjust="spacingAndGlyphs">si-control</text>
<text x="721.5" y="502" textLength="51.7" lengthAdjust="spacingAndGlyphs">si-PVT1</text>
</g>
<g class="b" font-size="15" text-anchor="end"><text x="541" y="545" textLength="19" lengthAdjust="spacingAndGlyphs">0h</text><text x="542" y="611.7" textLength="24" lengthAdjust="spacingAndGlyphs">24h</text></g>
<text class="b" font-size="14" text-anchor="middle" transform="translate(511,566) rotate(-90)" textLength="41" lengthAdjust="spacingAndGlyphs">H1299</text>
<path d="M513.5,545V587" stroke="#000" stroke-width="1.4"/>
<rect x="543" y="504.3" width="68.3" height="64" fill="url(#w0)"/>
<rect x="614.7" y="504.3" width="69.3" height="64" fill="url(#w0)"/>
<rect x="687.3" y="504.3" width="68.4" height="64" fill="url(#w0)"/>
<rect x="543" y="504.3" width="68.3" height="10" fill="#000" fill-opacity="0" filter="url(#spk)"/>
<rect x="614.7" y="504.3" width="69.3" height="10" fill="#000" fill-opacity="0" filter="url(#spk)"/>
<rect x="687.3" y="504.3" width="68.4" height="10" fill="#000" fill-opacity="0" filter="url(#spk)"/>
<rect x="543" y="559.5" width="68.3" height="8.8" fill="#000" fill-opacity="0" filter="url(#spk)"/>
<rect x="614.7" y="559.5" width="69.3" height="8.8" fill="#000" fill-opacity="0" filter="url(#spk)"/>
<rect x="687.3" y="559.5" width="68.4" height="8.8" fill="#000" fill-opacity="0" filter="url(#spk)"/>
<rect x="543" y="571" width="68.3" height="64" fill="url(#w1)"/>
<rect x="614.7" y="571" width="69.3" height="64" fill="url(#w1)"/>
<rect x="687.3" y="571" width="68.4" height="64" fill="url(#w1)"/>
<rect x="543" y="571" width="68.3" height="64" fill="#000" fill-opacity="0" filter="url(#spk)"/>
<rect x="614.7" y="571" width="69.3" height="64" fill="#000" fill-opacity="0" filter="url(#spk)"/>
<rect x="687.3" y="571" width="68.4" height="64" fill="#000" fill-opacity="0" filter="url(#spk)"/>
<path d="M550.7,515H601.3M550.7,558.3H601.3M625.7,515H675.7M625.7,558.3H675.7M696.7,515H746.3M696.7,558.3H746.3M550.7,596.7H601.3M550.7,613.3H601.3M625.7,595H675.7M625.7,610H675.7M696.7,592.3H746.3M696.7,616.7H746.3" stroke="#3a3630" stroke-width="1.4"/>
<!-- J bar -->
<text class="b" x="866.7" y="518" font-size="11.5" text-anchor="middle">H1299</text>
<path class="ax" d="M786,518V623H949M783,518H786M783,553H786M783,588H786M783,623H786"/>
<g class="b" font-size="8.5" text-anchor="end"><text x="782" y="521">1.5</text><text x="782" y="556">1.0</text><text x="782" y="591">0.5</text><text x="782" y="626">0.0</text></g>
<rect x="802" y="552.3" width="35" height="70.7"/>
<rect x="851" y="555.8" width="34" height="67.2"/>
<rect x="900" y="597.1" width="33" height="25.9"/>
<path class="eb" d="M819.5,552.3V549M812,549H827M868,555.8V552.3M860.5,552.3H875.5M916.5,597.1V594M909,594H924"/>
<text class="b" x="916.7" y="599.1" font-size="15" text-anchor="middle">*</text>
<g class="b" font-size="9.5" text-anchor="middle"><text x="819" y="638.3">NC</text><text x="868" y="638.3">control</text><text x="917.7" y="638.3">si-PVT1</text></g>
<text class="b" font-size="10.5" text-anchor="middle" transform="translate(768.4,572) rotate(-90)" textLength="126" lengthAdjust="spacingAndGlyphs">Relative migration area (%)</text>

<!-- ============ Caption ============ -->
<text class="cap" x="18" y="676" textLength="964" lengthAdjust="spacingAndGlyphs"><tspan font-weight="bold">Figure 2</tspan> The depletion of PVT1 suppressed cell proliferation, migration, and invasion but induced cell apoptosis in NSCLC cells. (<tspan font-weight="bold">A</tspan>) The level of PVT1 in H1299 and A549</text>
<text class="cap" x="18" y="692" textLength="964" lengthAdjust="spacingAndGlyphs">cells was detected by qRT-PCR. (<tspan font-weight="bold">B–J</tspan>) The H1299 and A549 cells were transfected with NC, control, si-PVT1. (<tspan font-weight="bold">B</tspan>) The level of PVT1 was tested by qRT-PCR. (<tspan font-weight="bold">C–D</tspan>) The cell</text>
<text class="cap" x="18" y="708.5" textLength="964" lengthAdjust="spacingAndGlyphs">viability was monitored via MTT assay. (<tspan font-weight="bold">E–F</tspan>) The apoptotic rate was detected through flow cytometry. (<tspan font-weight="bold">G–H</tspan>) The number of migration and invasion cells was examined by</text>
<text class="cap" x="18" y="725.5" textLength="524" lengthAdjust="spacingAndGlyphs">Transwell assay. (<tspan font-weight="bold">I–J</tspan>) The migrated ability was measured via Wound healing assay. *<tspan font-style="italic">P</tspan> &lt; 0.05.</text>
</svg>
</body></html>
